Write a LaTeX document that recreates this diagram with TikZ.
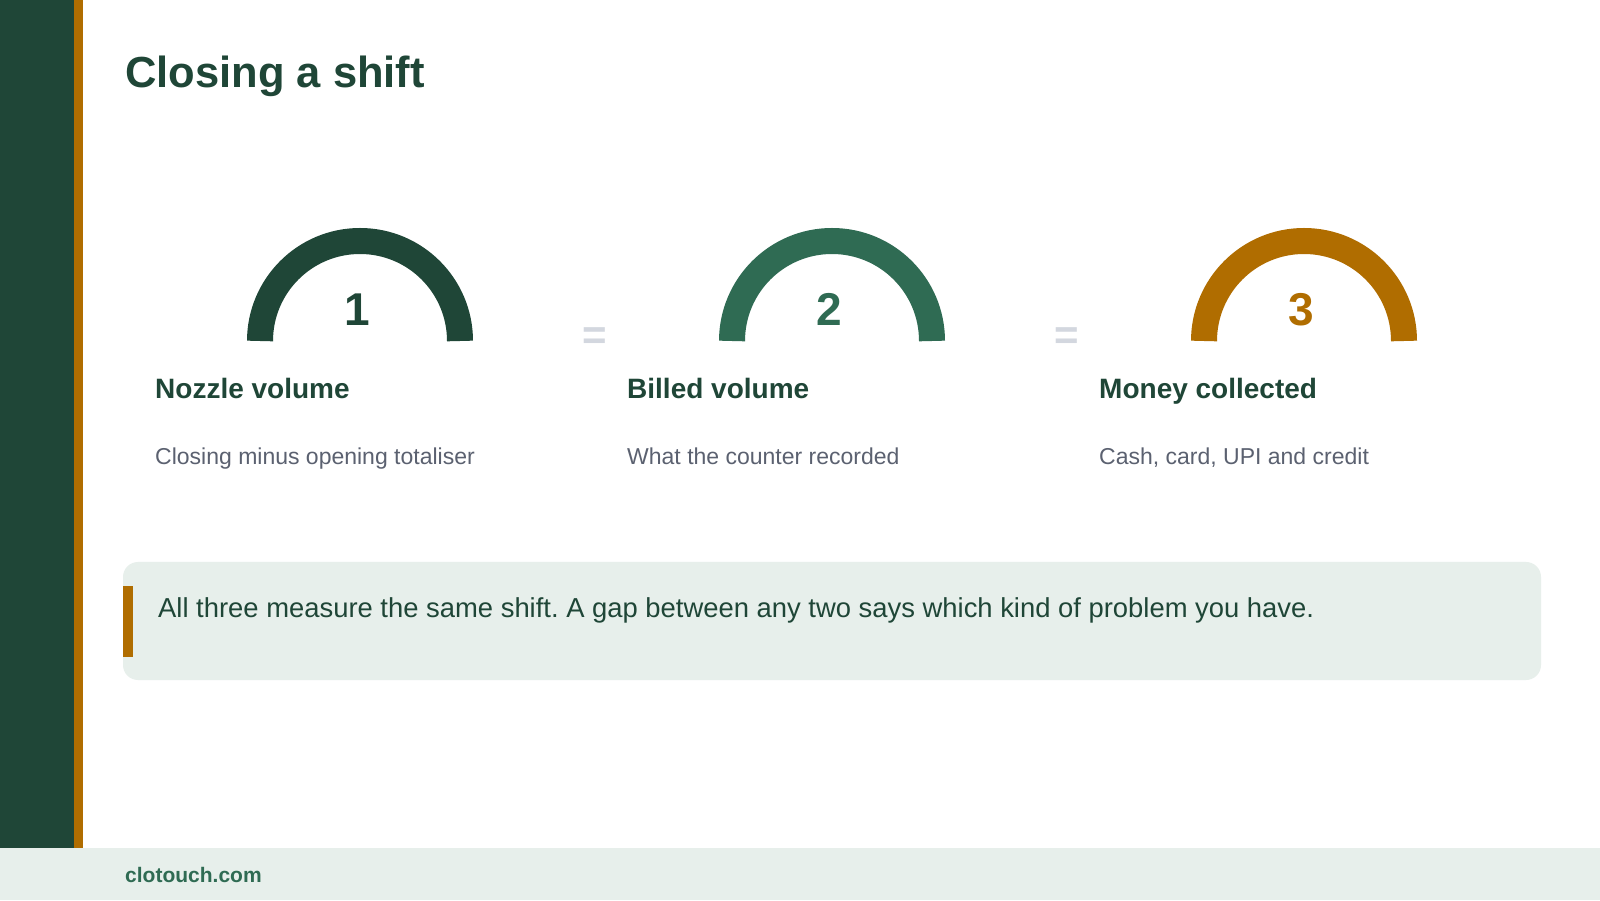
\documentclass[tikz,border=0pt]{standalone}
\usepackage{fontspec}
\setmainfont{Liberation Sans}
\usetikzlibrary{positioning}
\frenchspacing

\definecolor{pine}{HTML}{1F4637}
\definecolor{fern}{HTML}{2F6B53}
\definecolor{amber}{HTML}{B06D00}
\definecolor{mist}{HTML}{E7EFEB}
\definecolor{slate}{HTML}{5B6170}
\definecolor{haze}{HTML}{D3D7DF}

\tikzset{
  gauge/.style={line width=26pt},
  gaugenum/.style={anchor=base, inner sep=0pt, xshift=-3pt, font=\fontsize{46}{50}\selectfont\bfseries},
  headtext/.style={anchor=base west, inner sep=0pt, text=pine, font=\fontsize{28}{33}\selectfont\bfseries},
  subtext/.style={anchor=base west, inner sep=0pt, text=slate, font=\fontsize{23}{28}\selectfont},
  eqsign/.style={inner sep=0pt, text=haze, font=\fontsize{42}{46}\selectfont\bfseries},
}

\begin{document}
\begin{tikzpicture}[x=1pt,y=1pt]
    \useasboundingbox (0,0) rectangle (1600,900);
    \fill[white] (0,0) rectangle (1600,900);
    \fill[pine] (0,52) rectangle (74,900);
    \fill[amber] (74,52) rectangle (83,900);
    \fill[mist] (0,0) rectangle (1600,52);

    \node[anchor=base west, inner sep=0pt, text=pine, font=\fontsize{43.5}{50}\selectfont\bfseries] (title) at (125,812) {Closing a shift};

    \coordinate (g1) at (360,559);
    \coordinate (g2) at (832,559);
    \coordinate (g3) at (1304,559);
    \draw[gauge, pine] (g1) ++(-100,0) arc[start angle=180, end angle=0, radius=100];
    \draw[gauge, fern] (g2) ++(-100,0) arc[start angle=180, end angle=0, radius=100];
    \draw[gauge, amber] (g3) ++(-100,0) arc[start angle=180, end angle=0, radius=100];
    \node[above=15pt of g1, gaugenum, text=pine] (n1) {1};
    \node[above=15pt of g2, gaugenum, text=fern] (n2) {2};
    \node[above=15pt of g3, gaugenum, text=amber] (n3) {3};

    \node[eqsign] (eq1) at (595,561) {=};
    \node[eqsign] (eq2) at (1067,561) {=};

    \node[below left=58pt and 205pt of g1, headtext] (h1) {Nozzle volume};
    \node[below left=58pt and 205pt of g2, headtext] (h2) {Billed volume};
    \node[below left=58pt and 205pt of g3, headtext] (h3) {Money collected};
    \node[below=66pt of h1.base west, subtext] (s1) {Closing minus opening totaliser};
    \node[below=66pt of h2.base west, subtext] (s2) {What the counter recorded};
    \node[below=66pt of h3.base west, subtext] (s3) {Cash, card, UPI and credit};

    \fill[mist, rounded corners=15pt] (123,220) rectangle (1541,338);
    \fill[amber] (123,243) rectangle (133,314);
    \node[anchor=base west, inner sep=0pt, text=pine, font=\fontsize{27.4}{32}\selectfont] (note) at (158,283) {All three measure the same shift. A gap between any two says which kind of problem you have.};

    \node[anchor=base west, inner sep=0pt, text=fern, font=\fontsize{21}{25}\selectfont\bfseries] (site) at (125,18) {clotouch.com};
\end{tikzpicture}
\end{document}
